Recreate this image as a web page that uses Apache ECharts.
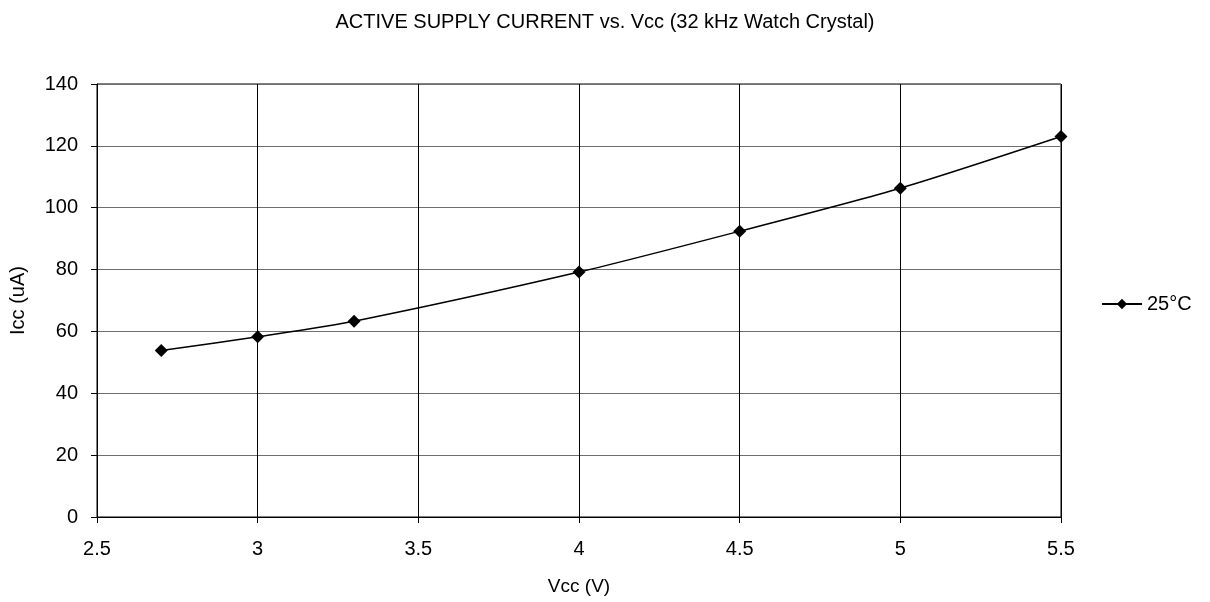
<!DOCTYPE html>
<html>
<head>
<meta charset="utf-8">
<script src="https://cdn.jsdelivr.net/npm/echarts@6/dist/echarts.min.js"></script>
<style>
  html, body { margin: 0; padding: 0; background: #fff; }
  #chart { width: 1210px; height: 602px; }
</style>
</head>
<body>
<div id="chart"></div>
<script>
// Supply voltage (V) and active supply current (uA) at 25°C
const vcc = [2.7, 3.0, 3.3, 4.0, 4.5, 5.0, 5.5];
const icc25 = [53.8, 58.3, 63.3, 79.2, 92.4, 106.3, 123.0];
const seriesName = '25°C';

const chart = echarts.init(document.getElementById('chart'));
const font = '"Liberation Sans", Arial, sans-serif';

chart.setOption({
  animation: false,
  backgroundColor: '#fff',
  title: {
    text: 'ACTIVE SUPPLY CURRENT vs. Vcc (32 kHz Watch Crystal)',
    left: 'center',
    top: 7,
    textStyle: { fontFamily: font, fontSize: 20, fontWeight: 'normal', color: '#000' }
  },
  legend: {
    left: 1096,
    top: 289,
    orient: 'vertical',
    itemWidth: 40,
    itemHeight: 13,
    itemGap: 5,
    textStyle: { fontFamily: font, fontSize: 20, color: '#000' },
    data: [seriesName]
  },
  grid: {
    left: 97, right: 149, top: 84, bottom: 85,
    show: true, borderColor: '#000', borderWidth: 1
  },
  xAxis: {
    type: 'value',
    min: 2.5, max: 5.5, interval: 0.5,
    name: 'Vcc (V)',
    nameLocation: 'middle',
    nameGap: 60,
    nameTextStyle: { fontFamily: font, fontSize: 19, color: '#000' },
    axisLine: { lineStyle: { color: '#000', width: 1 } },
    axisTick: { show: true, length: 6, lineStyle: { color: '#000' } },
    axisLabel: { fontFamily: font, fontSize: 20, color: '#000', margin: 22 },
    splitLine: { show: true, lineStyle: { color: '#000', width: 1 } }
  },
  yAxis: {
    type: 'value',
    min: 0, max: 140, interval: 20,
    name: 'Icc (uA)',
    nameLocation: 'middle',
    nameGap: 69,
    nameTextStyle: { fontFamily: font, fontSize: 20, color: '#000' },
    axisLine: { show: true, lineStyle: { color: '#000', width: 1 } },
    axisTick: { show: true, length: 6, lineStyle: { color: '#000' } },
    axisLabel: { fontFamily: font, fontSize: 20, color: '#000', margin: 19 },
    splitLine: { show: true, lineStyle: { color: '#6e6e6e', width: 1 } }
  },
  series: [{
    name: seriesName,
    type: 'line',
    data: vcc.map((v, i) => [v, icc25[i]]),
    smooth: 0.25,
    symbol: 'diamond',
    symbolSize: 13,
    itemStyle: { color: '#000' },
    lineStyle: { color: '#000', width: 1.5 }
  }]
});
</script>
</body>
</html>
